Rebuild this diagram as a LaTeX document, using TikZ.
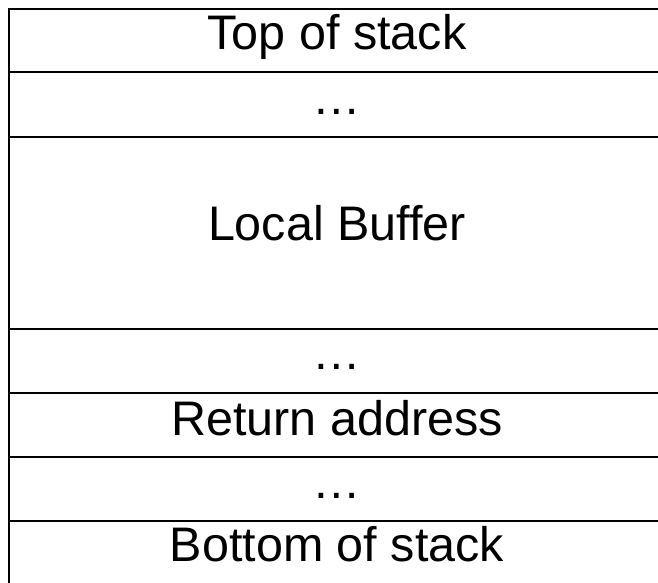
\documentclass[tikz,border=0pt]{standalone}
\usepackage{fontspec}
\setmainfont{Liberation Sans}
\begin{document}
\begin{tikzpicture}[x=1pt,y=-1pt,
  frame/.style={draw=black,line width=2.6pt},
  rowtext/.style={anchor=base,inner sep=0pt,font=\fontsize{48.5}{48.5}\selectfont}]
\useasboundingbox (0,0) rectangle (658,582);
\clip (0,0) rectangle (658,582);
% outer frame of the stack (runs past the right and lower edges)
\draw[frame] (9,9) rectangle (666,592);
% row separators
\foreach \y in {72,137,329,393,457,521}
  \draw[frame] (9,\y) -- (666,\y);
% row labels
\node[rowtext] (top)   at (337,49)  {Top of stack};
\node[rowtext] (dotsA) at (337,114) {…};
\node[rowtext] (buf)   at (337,240) {Local Buffer};
\node[rowtext] (dotsB) at (337,369) {…};
\node[rowtext] (ret)   at (337,435) {Return address};
\node[rowtext] (dotsC) at (337,498) {…};
\node[rowtext] (bot)   at (337,561) {Bottom of stack};
\end{tikzpicture}
\end{document}
